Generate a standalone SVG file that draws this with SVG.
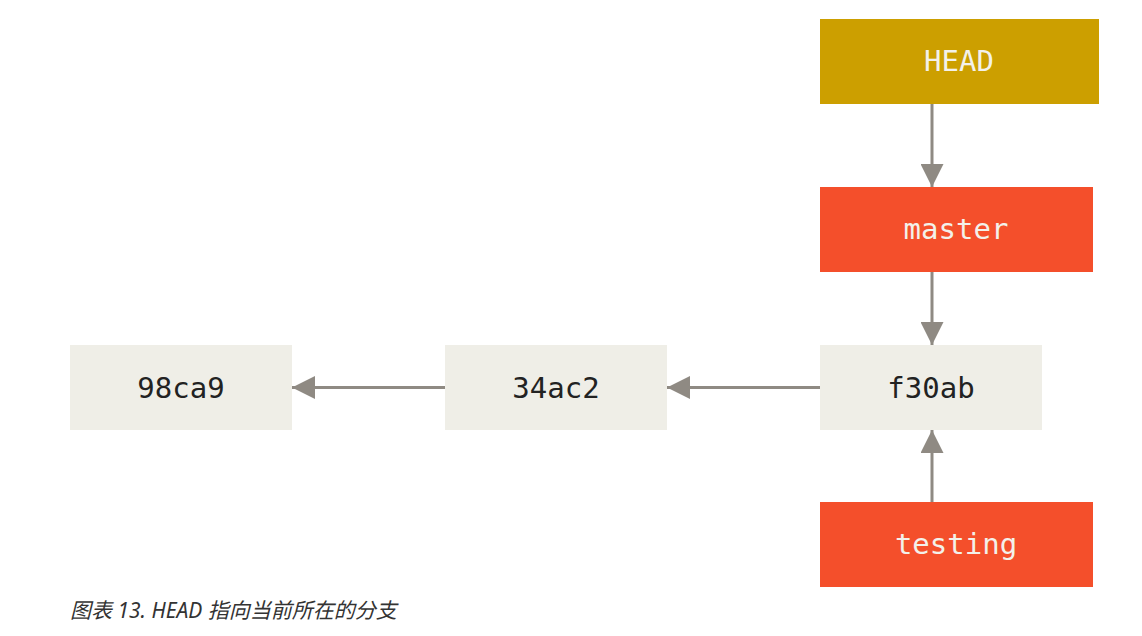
<svg xmlns="http://www.w3.org/2000/svg" width="1142" height="636" viewBox="0 0 1142 636">
<defs>
<style>
.commit{fill:#efeee7}
.head{fill:#cc9f00}
.branch{fill:#f44f2b}
.lbl{font-family:"DejaVu Sans Mono","Liberation Mono",monospace;font-size:29px;text-anchor:middle}
.dark{fill:#222}
.light{fill:#f3f1ea}
.conn{stroke:#8f8a83;stroke-width:3;fill:none}
.cap{font-family:"Noto Sans","Noto Sans CJK SC",sans-serif;font-style:italic;font-size:21px;fill:#333}
</style>
<marker id="arr" viewBox="0 0 23 23" refX="23" refY="11.5" markerWidth="23" markerHeight="23" markerUnits="userSpaceOnUse" orient="auto">
<path d="M0,0 L23,11.5 L0,23 Z" fill="#8f8a83"/>
</marker>
</defs>
<rect width="1142" height="636" fill="#fff"/>
<g id="connectors">
<line class="conn" x1="932" y1="104" x2="932" y2="187" marker-end="url(#arr)"/>
<line class="conn" x1="932" y1="272" x2="932" y2="345" marker-end="url(#arr)"/>
<line class="conn" x1="932" y1="502" x2="932" y2="430" marker-end="url(#arr)"/>
<line class="conn" x1="820" y1="387.5" x2="667" y2="387.5" marker-end="url(#arr)"/>
<line class="conn" x1="445" y1="387.5" x2="292" y2="387.5" marker-end="url(#arr)"/>
</g>
<g id="node-HEAD">
<rect class="head" x="820" y="19" width="279" height="85"/>
<text class="lbl light" x="959" y="71">HEAD</text>
</g>
<g id="node-master">
<rect class="branch" x="820" y="187" width="273" height="85"/>
<text class="lbl light" x="956" y="239">master</text>
</g>
<g id="node-f30ab">
<rect class="commit" x="820" y="345" width="222" height="85"/>
<text class="lbl dark" x="931" y="398">f30ab</text>
</g>
<g id="node-testing">
<rect class="branch" x="820" y="502" width="273" height="85"/>
<text class="lbl light" x="956" y="554">testing</text>
</g>
<g id="node-34ac2">
<rect class="commit" x="445" y="345" width="222" height="85"/>
<text class="lbl dark" x="556" y="398">34ac2</text>
</g>
<g id="node-98ca9">
<rect class="commit" x="70" y="345" width="222" height="85"/>
<text class="lbl dark" x="181" y="398">98ca9</text>
</g>
<text class="cap" x="70" y="618">图表 13. HEAD 指向当前所在的分支</text>
</svg>
